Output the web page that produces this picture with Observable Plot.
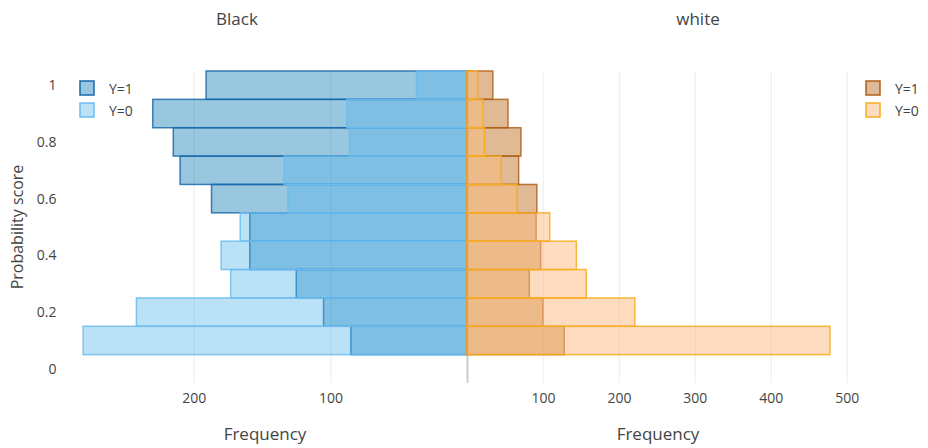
<!DOCTYPE html>
<html>
<head>
<meta charset="utf-8">
<script src="https://cdn.jsdelivr.net/npm/d3@7"></script>
<script src="https://cdn.jsdelivr.net/npm/@observablehq/plot@0.6"></script>
<style>
  html, body { margin: 0; padding: 0; background: white; }
  #chart { position: relative; width: 928px; height: 448px; font-family: "Open Sans", sans-serif; }
  #chart svg { position: absolute; left: 0; top: 0; }
</style>
</head>
<body>
<div id="chart"></div>
<script>
// Bin centres (probability score)
const bins = [0.1, 0.2, 0.3, 0.4, 0.5, 0.6, 0.7, 0.8, 0.9, 1.0];
// Frequencies per bin
const blackY1 = [85, 105, 125, 159, 159, 187, 210, 215, 230, 191];
const blackY0 = [281, 242, 173, 180, 166, 131, 134, 86, 88, 37];
const whiteY1 = [128, 100, 82, 97, 91, 92, 68, 71, 54, 34];
const whiteY0 = [478, 221, 157, 144, 109, 66, 45, 23, 21, 14];
const panels = ["Black", "white"];
const legendKeys = ["Y=1", "Y=0"];
const yTicks = [0, 0.2, 0.4, 0.6, 0.8, 1];
const leftTicks = [100, 200];
const rightTicks = [100, 200, 300, 400, 500];

(function () {
const binW = 0.1;
const rows = (vals) => bins.map((b, i) => ({y1: b - binW / 2, y2: b + binW / 2, v: vals[i]}));

const W = 928, H = 448, mTop = 71, mBottom = 65;
const midX = 467, leftX = 64, rightEnd = 849;
const textColor = "#444";
const font = "Open Sans, sans-serif";

const colors = {
  bY1: {fill: "#0072B2", stroke: "#1a6aa8"},
  bY0: {fill: "#56B4E9", stroke: "#6cbdee"},
  wY1: {fill: "#b35a00", stroke: "#b0601c"},
  wY0: {fill: "#fbb97f", stroke: "#f8ad1c"}
};
const fillOp = {bY1: 0.4, bY0: 0.4, wY1: 0.42, wY0: 0.5};

function bars(vals, key) {
  return Plot.rectX(rows(vals), {
    x1: 0, x2: "v", y1: "y1", y2: "y2",
    fill: colors[key].fill, fillOpacity: fillOp[key],
    stroke: colors[key].stroke, strokeOpacity: 0.85, strokeWidth: 1.5
  });
}

const common = {
  width: W, height: H, marginTop: mTop, marginBottom: mBottom,
  style: {background: "transparent", fontFamily: font, fontSize: "14px", color: textColor}
};

const left = Plot.plot({
  ...common,
  marginLeft: leftX, marginRight: W - midX,
  x: {domain: [0, 295], reverse: true, ticks: leftTicks, tickSize: 0, tickPadding: 10, label: null},
  y: {domain: [-0.05, 1.05], ticks: yTicks, tickSize: 0, tickPadding: 8, tickFormat: d => String(d), label: null},
  marks: [
    Plot.gridX(leftTicks, {stroke: "#f1f1f1", strokeOpacity: 1, strokeWidth: 1.5}),
    bars(blackY1, "bY1"),
    bars(blackY0, "bY0")
  ]
});

const right = Plot.plot({
  ...common,
  marginLeft: midX, marginRight: W - rightEnd,
  x: {domain: [0, 503], ticks: rightTicks, tickSize: 0, tickPadding: 10, label: null},
  y: {domain: [-0.05, 1.05], axis: null},
  marks: [
    Plot.gridX(rightTicks, {stroke: "#f1f1f1", strokeOpacity: 1, strokeWidth: 1.5}),
    Plot.ruleX([0], {stroke: "#cccccc", strokeWidth: 2}),
    bars(whiteY1, "wY1"),
    bars(whiteY0, "wY0")
  ]
});

const chart = document.getElementById("chart");
chart.appendChild(left);
chart.appendChild(right);

// Overlay for titles, axis titles and legends
const svg = d3.select(chart).append("svg")
  .attr("width", W).attr("height", H)
  .style("font-family", font);

const txt = (x, y, s, size, anchor = "middle") =>
  svg.append("text").attr("x", x).attr("y", y).attr("text-anchor", anchor)
    .attr("dominant-baseline", "central").attr("font-size", size).attr("fill", textColor).text(s);

txt(237, 18, panels[0], 17);
txt(698, 18, panels[1], 17);
txt(265, 433, "Frequency", 17);
txt(658, 433, "Frequency", 17);
svg.append("text").attr("transform", "translate(17,227) rotate(-90)")
  .attr("text-anchor", "middle").attr("dominant-baseline", "central")
  .attr("font-size", 16).attr("fill", textColor).text("Probability score");

function legend(x, keys) {
  keys.forEach((k, i) => {
    const cy = 88 + i * 22;
    svg.append("rect").attr("x", x).attr("y", cy - 7).attr("width", 14).attr("height", 14)
      .attr("fill", colors[k].fill).attr("fill-opacity", fillOp[k])
      .attr("stroke", colors[k].stroke).attr("stroke-width", 1.5);
    txt(x + 29, cy, legendKeys[i], 14, "start");
  });
}
legend(80, ["bY1", "bY0"]);
legend(866, ["wY1", "wY0"]);
})();
</script>
</body>
</html>
